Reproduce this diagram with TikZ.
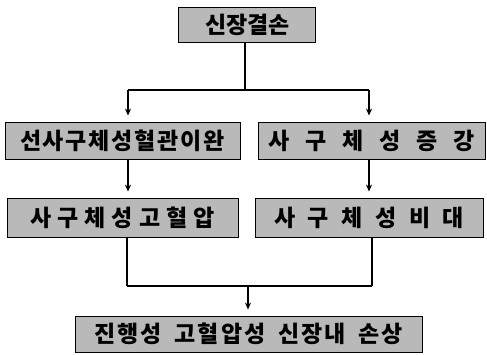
\documentclass[tikz,border=0pt]{standalone}
\usepackage{fontspec}
\usetikzlibrary{arrows.meta}
\newfontfamily\kr{Noto Sans CJK KR}
\newcommand{\lbl}[2]{\makebox[#1pt][s]{#2}}
\tikzset{
  box/.style={draw=black, line width=0.9pt, fill=gray!55, inner sep=0pt,
    font=\kr\bfseries\fontsize{23}{26}\selectfont, text=black},
  conn/.style={line width=1.1pt, draw=black},
  arr/.style={conn, -{Stealth[length=7pt,width=6pt]}, shorten >=6pt}
}
\begin{document}
\begin{tikzpicture}[x=1pt,y=-1pt]
\useasboundingbox (0,0) rectangle (487,355);
\node[box, minimum width=137pt, minimum height=35pt] (top) at (246.5,24.5)
  {\lbl{82}{신\hfill 장\hfill 결\hfill 손}};
\node[box, minimum width=235pt, minimum height=37pt] (r2l) at (122.5,140.5)
  {\lbl{205}{선\hfill 사\hfill 구\hfill 체\hfill 성\hfill 혈\hfill 관\hfill 이\hfill 완}};
\node[box, minimum width=227pt, minimum height=37pt] (r2r) at (371.5,140.5)
  {\lbl{206}{사\hfill 구\hfill 체\hfill 성\hfill 증\hfill 강}};
\node[box, minimum width=231pt, minimum height=39pt] (r3l) at (122.5,217.5)
  {\lbl{185}{사\hfill 구\hfill 체\hfill 성\hfill 고\hfill 혈\hfill 압}};
\node[box, minimum width=228pt, minimum height=39pt] (r3r) at (369,217.5)
  {\lbl{190}{사\hfill 구\hfill 체\hfill 성\hfill 비\hfill 대}};
\node[box, minimum width=347pt, minimum height=36pt] (bot) at (248.5,334)
  {\lbl{309}{진\hfill 행\hfill 성\hfill\hspace{8pt}\hfill 고\hfill 혈\hfill 압\hfill 성\hfill\hspace{8pt}\hfill 신\hfill 장\hfill 내\hfill\hspace{8pt}\hfill 손\hfill 상}};
% connectors
\coordinate (j1) at (245,90);
\coordinate (jl) at (128,90);
\coordinate (jr) at (369,90);
\coordinate (k1) at (248,286);
\coordinate (kl) at (127,286);
\coordinate (kr) at (372,286);
\draw[conn] ([xshift=-1.5pt]top.south) -- (j1);
\draw[conn] (jl) -- (jr);
\draw[arr] (jl) -- ([xshift=5.5pt]r2l.north);
\draw[arr] (jr) -- ([xshift=-2.5pt]r2r.north);
\draw[arr] ([xshift=5.5pt]r2l.south) -- ([xshift=5.5pt]r3l.north);
\draw[arr] ([xshift=-2.5pt]r2r.south) -- ([xshift=0pt]r3r.north);
\draw[conn] ([xshift=4.5pt]r3l.south) -- (kl);
\draw[conn] ([xshift=3pt]r3r.south) -- (kr);
\draw[conn] (kl) -- (kr);
\draw[arr] (k1) -- ([xshift=-0.5pt]bot.north);
\end{tikzpicture}
\end{document}
